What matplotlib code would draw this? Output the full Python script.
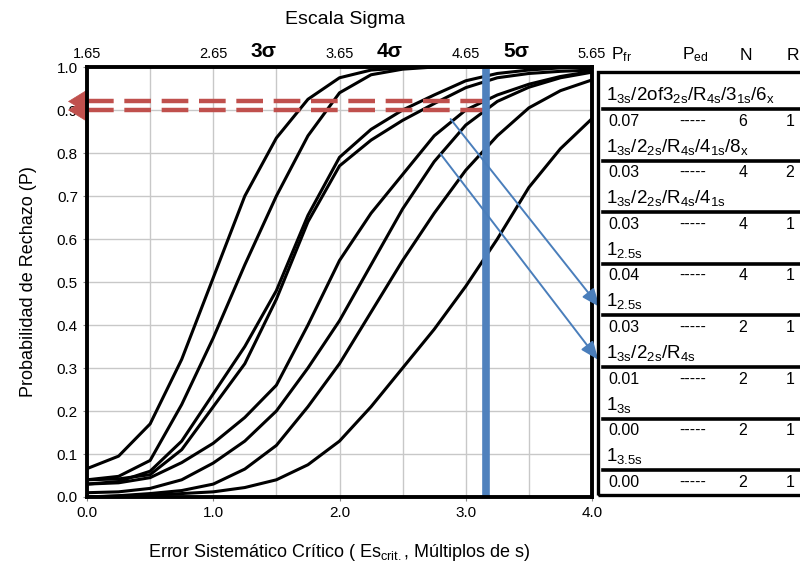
import matplotlib
matplotlib.use("Agg")
import matplotlib.pyplot as plt
from matplotlib.lines import Line2D
from matplotlib.patches import Rectangle

plt.rcParams['font.family'] = ['Liberation Sans', 'DejaVu Sans']
plt.rcParams['mathtext.default'] = 'regular'

# systematic error (multiples of s) where the curves were read
se = [0.0, 0.25, 0.5, 0.75, 1.0, 1.25, 1.5, 1.75, 2.0, 2.25, 2.5, 2.75, 3.0, 3.25, 3.5, 3.75, 4.0]

# probability of rejection, one list per QC rule (order = table order)
p_rule1 = [0.066, 0.095, 0.17, 0.32, 0.51, 0.70, 0.835, 0.925, 0.975, 0.993, 0.998, 1.0, 1.0, 1.0, 1.0, 1.0, 1.0]
p_rule2 = [0.04, 0.048, 0.085, 0.215, 0.37, 0.54, 0.70, 0.84, 0.94, 0.982, 0.995, 1.0, 1.0, 1.0, 1.0, 1.0, 1.0]
p_rule3 = [0.03, 0.036, 0.06, 0.13, 0.24, 0.35, 0.48, 0.655, 0.79, 0.855, 0.90, 0.935, 0.968, 0.985, 0.993, 0.998, 1.0]
p_rule4 = [0.04, 0.042, 0.052, 0.11, 0.21, 0.31, 0.46, 0.64, 0.77, 0.83, 0.876, 0.915, 0.952, 0.975, 0.985, 0.99, 0.993]
p_rule5 = [0.03, 0.033, 0.045, 0.08, 0.125, 0.185, 0.26, 0.40, 0.55, 0.66, 0.75, 0.84, 0.90, 0.935, 0.96, 0.978, 0.99]
p_rule6 = [0.01, 0.012, 0.02, 0.04, 0.079, 0.13, 0.20, 0.30, 0.41, 0.54, 0.67, 0.78, 0.865, 0.92, 0.953, 0.975, 0.988]
p_rule7 = [0.0, 0.003, 0.008, 0.015, 0.03, 0.065, 0.12, 0.21, 0.31, 0.43, 0.55, 0.66, 0.76, 0.84, 0.905, 0.945, 0.97]
p_rule8 = [0.0, 0.002, 0.004, 0.008, 0.012, 0.022, 0.04, 0.075, 0.13, 0.21, 0.30, 0.39, 0.49, 0.60, 0.72, 0.81, 0.88]
curves = [p_rule1, p_rule2, p_rule3, p_rule4, p_rule5, p_rule6, p_rule7, p_rule8]

# table on the right
rules = [r"$1_{3s}/2of3_{2s}/R_{4s}/3_{1s}/6_{x}$",
         r"$1_{3s}/2_{2s}/R_{4s}/4_{1s}/8_{x}$",
         r"$1_{3s}/2_{2s}/R_{4s}/4_{1s}$",
         r"$1_{2.5s}$",
         r"$1_{2.5s}$",
         r"$1_{3s}/2_{2s}/R_{4s}$",
         r"$1_{3s}$",
         r"$1_{3.5s}$"]
pfr = ["0.07", "0.03", "0.03", "0.04", "0.03", "0.01", "0.00", "0.00"]
ped = ["-----"] * 8
n_runs = ["6", "4", "4", "4", "2", "2", "2", "2"]
r_runs = ["1", "2", "1", "1", "1", "1", "1", "1"]

sigma_ticks = [1.65, 2.65, 3.65, 4.65, 5.65]
sigma_marks = [3, 4, 5]
crit_se = 3.16
target_p = [0.92, 0.90]
blue_arrows = [((2.88, 0.879), (4.06, 0.442)), ((2.80, 0.798), (4.05, 0.319))]

fig = plt.figure(figsize=(8, 5.68), dpi=100)
ax = fig.add_axes([0.10875, 0.125, 0.63125, 0.757])

for p in curves:
    ax.plot(se, p, color="black", lw=2.2, zorder=3, solid_joinstyle="round")

ax.set_xlim(0, 4)
ax.set_ylim(0, 1)
ax.set_xticks([0, 1, 2, 3, 4])
ax.set_xticklabels(["0.0", "1.0", "2.0", "3.0", "4.0"])
ax.set_xticks([0.5, 1.5, 2.5, 3.5], minor=True)
ax.set_yticks([i / 10 for i in range(11)])
ax.set_yticklabels([f"{i / 10:.1f}" for i in range(11)])
ax.grid(which="both", color="#c8c8c8", lw=1.0, zorder=0)
ax.tick_params(labelsize=11, length=3, color="#888888", width=0.8)
ax.tick_params(which="minor", length=0)
for s in ax.spines.values():
    s.set_linewidth(2.8)
    s.set_zorder(6)

ax.set_ylabel("Probabilidad de Rechazo (P)", fontsize=13, labelpad=14)
ax.set_xlabel(r"Error Sistemático Crítico ( Es$_{crit.}$, Múltiplos de s)", fontsize=13, labelpad=16)

# sigma scale on top
top = ax.secondary_xaxis("top", functions=(lambda x: x + 1.65, lambda s: s - 1.65))
top.set_xticks(sigma_ticks)
top.set_xticklabels([f"{s:.2f}" for s in sigma_ticks])
top.tick_params(length=0, pad=4, labelsize=10.5)
top.spines["top"].set_visible(False)
for m in sigma_marks:
    ax.text(m - 1.6, 1.035, f"{m}σ", transform=ax.get_xaxis_transform(),
            ha="center", va="center", fontsize=15, fontweight="bold")
fig.text(0.431, 1 - 20 / 568, "Escala Sigma", ha="center", va="center", fontsize=14)

# critical error line
ax.plot([crit_se, crit_se], [0, 1], color="#4f81bd", lw=5.5, solid_capstyle="butt", zorder=5)

# red dashed target lines with arrowheads
for yv in target_p:
    ax.plot([0.0, crit_se], [yv, yv], color="#c0504d", lw=3.2, dashes=(6, 2.4),
            zorder=4, clip_on=False)
    ax.annotate("", xy=(-0.15, yv), xytext=(0.0, yv), annotation_clip=False,
                arrowprops=dict(arrowstyle="-|>,head_length=1.3,head_width=0.8",
                                color="#c0504d", lw=0.5, shrinkA=0, shrinkB=0))

# blue arrows to the table
for start, end in blue_arrows:
    ax.annotate("", xy=end, xytext=start, annotation_clip=False, zorder=7,
                arrowprops=dict(arrowstyle="-|>,head_length=1.1,head_width=0.45",
                                color="#4a7ebb", lw=1.4, shrinkA=0, shrinkB=0))

# table
W, H = 800, 568
fig.add_artist(Rectangle((598 / W, 1 - 495 / H), (900 - 598) / W, (495 - 72) / H,
                         transform=fig.transFigure, fill=False, lw=2.4, ec="black"))
for txt, xp in zip([r"$P_{fr}$", r"$P_{ed}$", "N", "R"], [622, 695, 746, 793]):
    fig.text(xp / W, 1 - 55 / H, txt, ha="center", va="center", fontsize=12.5)

step = 51.6
for i in range(len(rules)):
    fig.text(606 / W, 1 - (95 + step * i) / H, rules[i], ha="left", va="center", fontsize=13.5)
    yl = 1 - (109 + step * i) / H
    fig.add_artist(Line2D([603 / W, 1.0], [yl, yl], transform=fig.transFigure, color="black", lw=2.6))
    yv = 1 - (121 + step * i) / H
    fig.text(608 / W, yv, pfr[i], ha="left", va="center", fontsize=11.5)
    fig.text(693 / W, yv, ped[i], ha="center", va="center", fontsize=11.5)
    fig.text(743 / W, yv, n_runs[i], ha="center", va="center", fontsize=11.5)
    fig.text(790 / W, yv, r_runs[i], ha="center", va="center", fontsize=11.5)

fig.savefig("out.png", dpi=100)
